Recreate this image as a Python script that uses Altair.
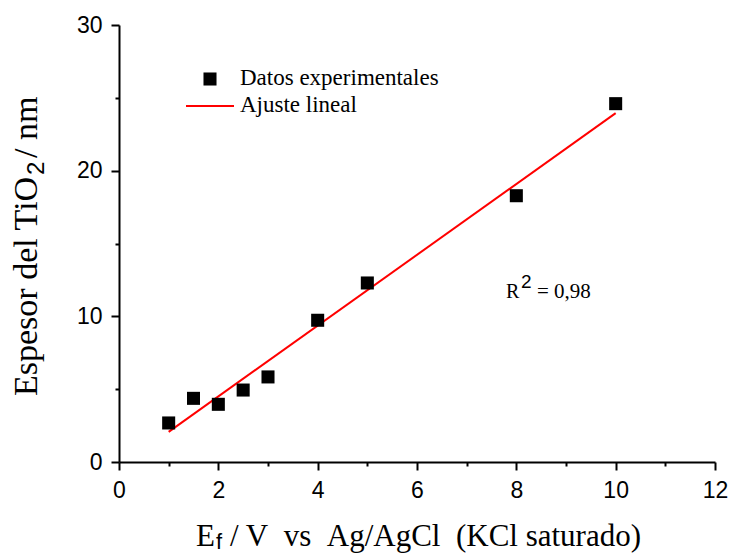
import altair as alt
import pandas as pd

# Applied potential (V vs Ag/AgCl) and measured TiO2 film thickness (nm)
potencial = [1, 1.5, 2, 2.5, 3, 4, 5, 8, 10]
espesor = [2.68, 4.37, 3.96, 4.94, 5.84, 9.73, 12.29, 18.28, 24.6]

x_ticks = list(range(0, 13))
y_ticks = [0, 5, 10, 15, 20, 25, 30]

serie_puntos = "Datos experimentales"
serie_ajuste = "Ajuste lineal"
r2_texto = "= 0,98"

df = pd.DataFrame({"E": potencial, "d": espesor})
one = pd.DataFrame({"k": [0]})

W, H = 596, 437
SERIF = "Liberation Serif"
SANS = "Liberation Sans"

axis_common = dict(
    title=None,
    grid=False,
    domainColor="black",
    domainWidth=2,
    tickColor="black",
    tickWidth=2,
    labelFont=SANS,
    labelFontSize=23,
    labelColor="black",
    labelOverlap=False,
    labelFlush=False,
    labelPadding=9,
)

x_axis = alt.Axis(
    values=x_ticks,
    labelExpr="datum.value % 2 == 0 ? datum.label : ''",
    tickSize={"condition": {"test": "datum.value % 2 == 1", "value": 4}, "value": 8},
    **axis_common,
)
y_axis = alt.Axis(
    values=y_ticks,
    labelExpr="datum.value % 10 == 0 ? datum.label : ''",
    tickSize={"condition": {"test": "datum.value % 10 != 0", "value": 4}, "value": 8},
    **axis_common,
)

x_enc = alt.X("E:Q", scale=alt.Scale(domain=[0, 12], nice=False, zero=False), axis=x_axis)
y_enc = alt.Y("d:Q", scale=alt.Scale(domain=[0, 30], nice=False), axis=y_axis)

# least-squares fit drawn between the first and last measured potentials
fit = (
    alt.Chart(df)
    .transform_regression("E", "d", extent=[1, 10])
    .mark_line(color="red", strokeWidth=2)
    .encode(x=x_enc, y=y_enc)
)

points = (
    alt.Chart(df)
    .mark_square(size=170, color="black", opacity=1)
    .encode(x=x_enc, y=y_enc)
)


def label(text, x, y, size, font=SERIF, angle=0, align="left"):
    return (
        alt.Chart(one)
        .mark_text(
            text=text,
            font=font,
            fontSize=size,
            color="black",
            align=align,
            baseline="alphabetic",
            angle=angle,
        )
        .encode(x=alt.value(x), y=alt.value(y))
    )


# legend
leg_square = (
    alt.Chart(one)
    .mark_square(size=170, color="black", opacity=1)
    .encode(x=alt.value(91), y=alt.value(54))
)
leg_line = (
    alt.Chart(one)
    .mark_rule(color="red", strokeWidth=2)
    .encode(x=alt.value(67), x2=alt.value(115), y=alt.value(81))
)
leg_t1 = label(serie_puntos, 121, 60, 23)
leg_t2 = label(serie_ajuste, 121, 87, 23)

# R^2 annotation
r_t = label("R", 387, 273, 20)
r_sup = label("2", 402, 263, 19, font=SANS)
r_val = label(r2_texto, 418, 273, 21)

# x-axis title: E_f / V  vs  Ag/AgCl  (KCl saturado)
nb = "\u00a0"
xt_e = label("E", 77, 521, 31)
xt_f = label("f", 97, 524, 22, font=SANS)
xt_rest = label(f"/ V{nb*2}vs{nb*2}Ag/AgCl{nb*2}(KCl saturado)", 111, 521, 31)

# y-axis title: Espesor del TiO_2 / nm (rotated)
yt_a = label("Espesor del TiO", -82, 371, 34, angle=270)
yt_2 = label("2", -75, 150, 24, font=SANS, angle=270)
yt_b = label(f"{nb}/{nb}nm", -82, 133, 34, angle=270)

chart = (
    alt.layer(
        fit, points, leg_square, leg_line, leg_t1, leg_t2,
        r_t, r_sup, r_val, xt_e, xt_f, xt_rest, yt_a, yt_2, yt_b,
    )
    .properties(
        width=W,
        height=H,
        autosize=alt.AutoSizeParams(type="none"),
        padding={"left": 119, "top": 25, "right": 17, "bottom": 92},
        background="white",
    )
    .configure_view(stroke=None)
)

chart.save("out.html", embed_options={"renderer": "svg", "actions": False})
